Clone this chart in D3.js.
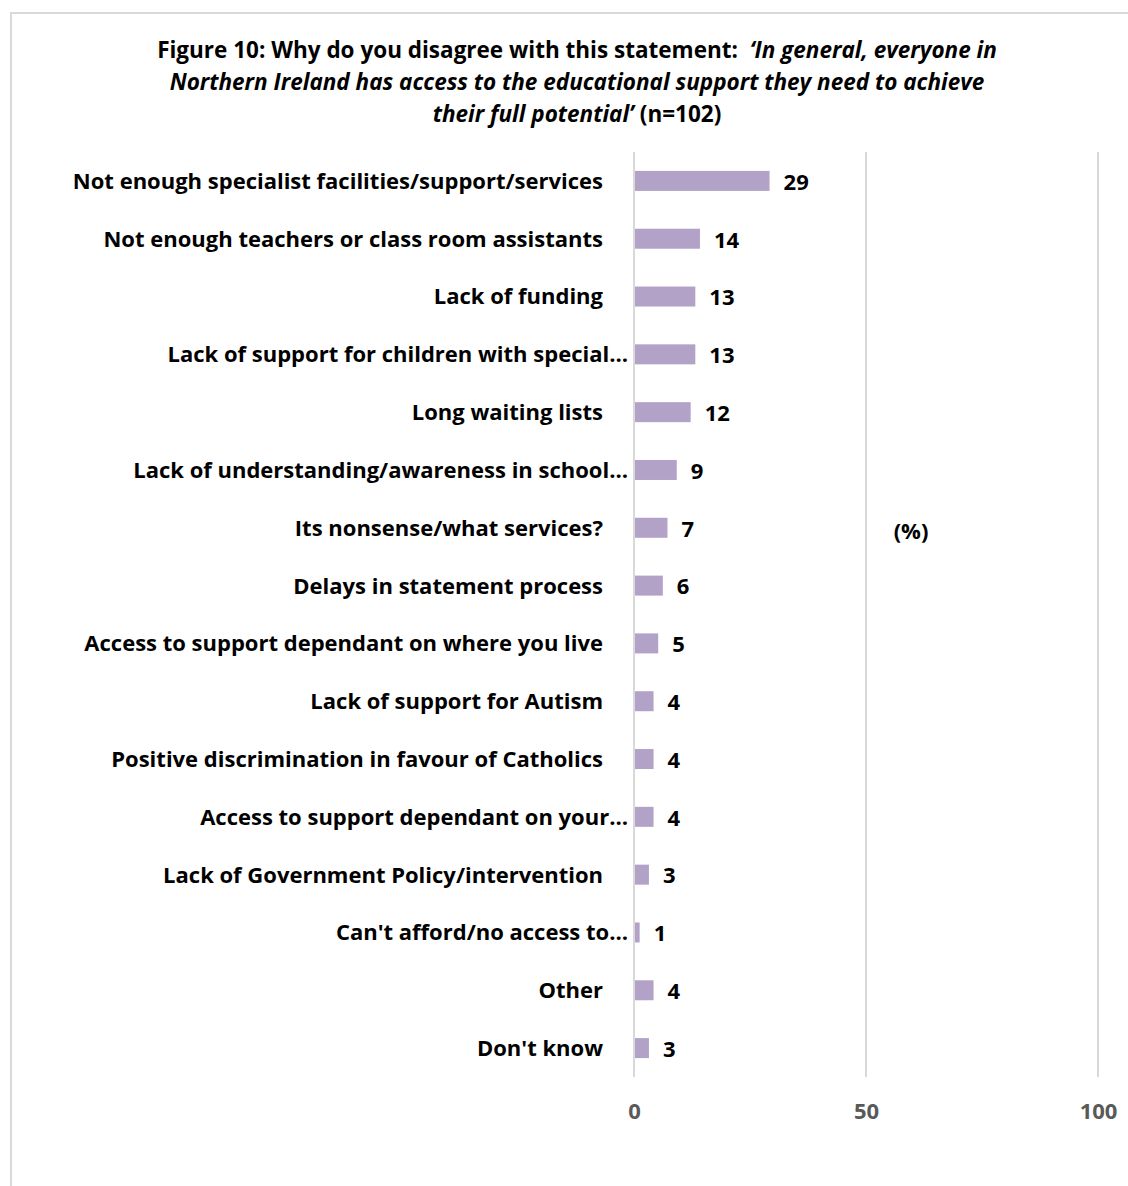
<!DOCTYPE html>
<html>
<head>
<meta charset="utf-8">
<script src="https://cdn.jsdelivr.net/npm/d3@7"></script>
<style>
  html, body { margin: 0; padding: 0; background: #fff; }
  svg { display: block; font-family: "Open Sans", Lato, sans-serif; }
</style>
</head>
<body>
<svg id="chart" width="1128" height="1186"></svg>
<script>
// Reasons given for disagreeing (percent of respondents, n=102)
const categories = [
  "Not enough specialist facilities/support/services",
  "Not enough teachers or class room assistants",
  "Lack of funding",
  "Lack of support for children with special…",
  "Long waiting lists",
  "Lack of understanding/awareness in school…",
  "Its nonsense/what services?",
  "Delays in statement process",
  "Access to support dependant on where you live",
  "Lack of support for Autism",
  "Positive discrimination in favour of Catholics",
  "Access to support dependant on your…",
  "Lack of Government Policy/intervention",
  "Can't afford/no access to…",
  "Other",
  "Don't know"
];
const values = [29, 14, 13, 13, 12, 9, 7, 6, 5, 4, 4, 4, 3, 1, 4, 3];
const tickValues = [0, 50, 100];
const axisUnit = "(%)";

const FS = 22;      // category, value and axis labels
const TFS = 22.5;   // title
const svg = d3.select("#chart");

// outer frame
svg.append("rect")
  .attr("x", 11).attr("y", 13)
  .attr("width", 1140).attr("height", 1200)
  .attr("fill", "none").attr("stroke", "#d9d9d9").attr("stroke-width", 2);

// title
const title = svg.append("g").attr("font-weight", 700).attr("font-size", TFS)
  .attr("fill", "#000").attr("text-anchor", "middle");
const t1 = title.append("text").attr("x", 577).attr("y", 58);
t1.append("tspan").text("Figure 10: Why do you disagree with this statement: \u00a0");
t1.append("tspan").attr("font-style", "italic").text("\u2018In general, everyone in");
title.append("text").attr("x", 577).attr("y", 90)
  .attr("font-style", "italic")
  .text("Northern Ireland has access to the educational support they need to achieve");
const t3 = title.append("text").attr("x", 577).attr("y", 122);
t3.append("tspan").attr("font-style", "italic").text("their full potential\u2019");
t3.append("tspan").text(" (n=102)");

// scales
const x = d3.scaleLinear().domain([0, 100]).range([634, 1098]);
const y = d3.scaleBand().domain(categories).range([152, 1077])
  .paddingInner(0.654).paddingOuter(0.327);

// vertical gridlines (the 0 line doubles as the category axis)
svg.append("g").selectAll("line").data(tickValues).join("line")
  .attr("x1", d => x(d)).attr("x2", d => x(d))
  .attr("y1", 152).attr("y2", 1077)
  .attr("stroke", "#d9d9d9").attr("stroke-width", 2);

// value axis tick labels
const xAxis = svg.append("g")
  .attr("transform", "translate(0,1077)")
  .call(d3.axisBottom(x).tickValues(tickValues).tickSize(0).tickPadding(0));
xAxis.select(".domain").remove();
xAxis.selectAll("text")
  .attr("dy", 0).attr("y", 42)
  .attr("font-family", "'Open Sans', sans-serif")
  .attr("font-size", FS).attr("font-weight", 700).attr("fill", "#595959");

// bars
svg.append("g").selectAll("rect").data(values).join("rect")
  .attr("x", x(0) + 1)
  .attr("y", (d, i) => y(categories[i]))
  .attr("width", d => x(d) - x(0))
  .attr("height", y.bandwidth())
  .attr("fill", "#b3a2c7");

// value labels
svg.append("g").selectAll("text").data(values).join("text")
  .attr("x", d => x(d) + 15)
  .attr("y", (d, i) => y(categories[i]) + y.bandwidth() / 2)
  .attr("dy", "0.4em")
  .attr("font-size", FS).attr("font-weight", 700).attr("fill", "#000")
  .text(d => d);

// category labels
svg.append("g").selectAll("text").data(categories).join("text")
  .attr("x", d => d.endsWith("…") ? 628 : 603)
  .attr("y", d => y(d) + y.bandwidth() / 2)
  .attr("dy", "0.36em")
  .attr("text-anchor", "end")
  .attr("font-size", FS).attr("font-weight", 700).attr("fill", "#000")
  .text(d => d);

// unit label
svg.append("text")
  .attr("x", 911).attr("y", 531).attr("dy", "0.36em")
  .attr("text-anchor", "middle")
  .attr("font-size", FS).attr("font-weight", 700).attr("fill", "#000")
  .text(axisUnit);
</script>
</body>
</html>
